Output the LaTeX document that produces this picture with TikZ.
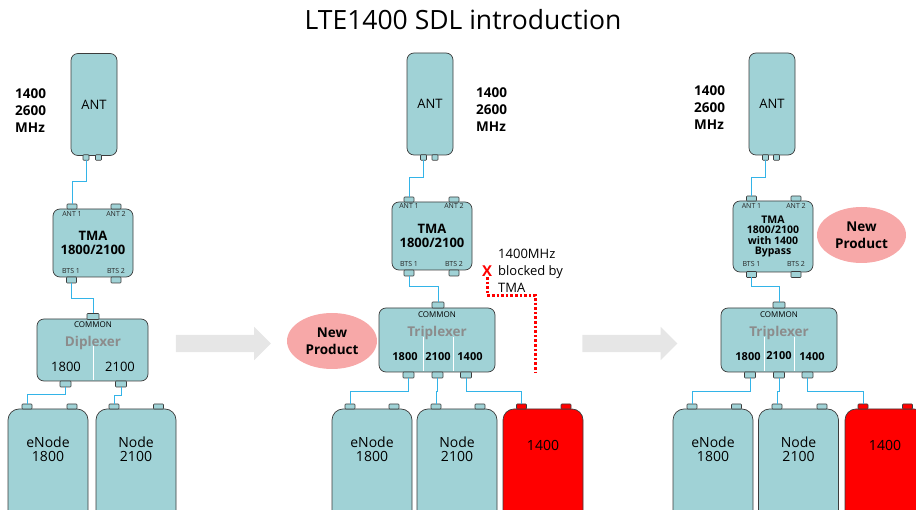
\documentclass[tikz,border=0pt]{standalone}
\usepackage{fontspec}
\setmainfont{Open Sans}
\usetikzlibrary{shapes.geometric,shapes.arrows}
\definecolor{unitfill}{HTML}{A0D2D6}
\definecolor{unitline}{HTML}{3C3C3C}
\definecolor{feeder}{HTML}{33B4E8}
\definecolor{newpink}{HTML}{F7A8A8}
\definecolor{plexgray}{HTML}{8C8C8C}
\definecolor{steparrow}{HTML}{E6E6E6}
\tikzset{
	unit/.style     = {shape=rectangle, rounded corners=7pt,
		draw=unitline, fill=unitfill, line width=0.7pt,
		inner sep=0pt, outer sep=0pt, align=center},
	antenna/.style  = {unit, minimum width=46pt, minimum height=102pt,
		font=\fontsize{13}{15}\selectfont},
	tma/.style      = {unit, minimum width=80pt, font=\bfseries\fontsize{13}{14}\selectfont},
	plexer/.style   = {unit, minimum width=116pt, minimum height=64pt},
	bts/.style      = {unit, anchor=north, rounded corners=11pt,
		minimum width=80pt, minimum height=140pt},
	btsred/.style   = {bts, fill=red},
	port/.style     = {draw=unitline, fill=unitfill, line width=0.6pt,
		minimum width=10pt, minimum height=5pt,
		inner sep=0pt, outer sep=0pt, rounded corners=0.8pt},
	antport/.style  = {port, minimum width=6pt, minimum height=5.5pt},
	plexport/.style = {port, minimum width=11pt, minimum height=6pt},
	redport/.style  = {port, fill=red},
	feed/.style     = {draw=feeder, line width=1pt},
	split/.style    = {draw=white, line width=0.9pt},
	blocked/.style  = {draw=red, line width=3pt, dash pattern=on 2.6pt off 2pt},
	portlbl/.style  = {font=\fontsize{7}{7}\selectfont, text=black!85, inner sep=0pt},
	comlbl/.style   = {font=\fontsize{8}{8}\selectfont, inner sep=0pt},
	plexname/.style = {font=\bfseries\fontsize{13.5}{14}\selectfont, text=plexgray, inner sep=0pt},
	band/.style     = {font=\fontsize{13}{13}\selectfont, inner sep=0pt},
	bandb/.style    = {font=\bfseries\fontsize{11}{11}\selectfont, inner sep=0pt},
	btslbl/.style   = {font=\fontsize{14}{13.5}\selectfont, align=center, inner sep=0pt},
	freq/.style     = {font=\bfseries\fontsize{13.5}{17}\selectfont, align=left,
		anchor=west, inner sep=0pt},
	newprod/.style  = {ellipse, fill=newpink, inner sep=0pt, align=center,
		font=\bfseries\fontsize{13.5}{17}\selectfont},
	stepper/.style  = {single arrow, fill=steparrow, draw=none, inner sep=0pt,
		inner ysep=8.5pt, minimum height=95pt, minimum width=33pt,
		single arrow head extend=8pt, single arrow tip angle=90}
}

\begin{document}
\begin{tikzpicture}[x=1pt, y=-1pt]
	\useasboundingbox (0,0) rectangle (916,510);
	\clip (0,0) rectangle (916,510);
	\node[font=\fontsize{26.5}{28}\selectfont, inner sep=0pt] (title) at (463,20) {LTE1400 SDL introduction};

	% --- today: TMA + diplexer ---
	\node[antenna] (antA) at (94,104.5) {ANT};
	\node[freq] (frqA) at (15,110.5) {1400\\2600\\MHz};
	\node[tma, minimum height=68pt] (tmaA) at (93,243) {TMA\\1800/2100};
	\node[unit, minimum width=111pt, minimum height=62pt] (dipA) at (92.5,350) {};
	\node[bts] (enA) at (48,409) {};
	\node[bts] (ndA) at (136,409) {};
	\node[antport] (antAp1) at (86,157.5) {};
	\node[antport] (antAp2) at (98.5,157.5) {};
	\node[port] (tmaAa1) at (72,206.5) {};
	\node[port] (tmaAa2) at (116,206.5) {};
	\node[port, minimum height=6pt] (tmaAb1) at (71.5,280) {};
	\node[port, minimum height=6pt] (tmaAb2) at (116,280) {};
	\node[plexport, minimum width=12pt] (dipAc) at (93,316.5) {};
	\node[plexport] (dipAo1) at (65.5,384) {};
	\node[plexport] (dipAo2) at (121,384) {};
	\node[port] (enAp1) at (27,406.5) {};
	\node[port] (enAp2) at (72,406.5) {};
	\node[port] (ndAp1) at (114,406.5) {};
	\node[port] (ndAp2) at (158.5,406.5) {};
	\node[portlbl] (tmaAl1) at (72,214) {ANT 1};
	\node[portlbl] (tmaAl2) at (116,214) {ANT 2};
	\node[portlbl] (tmaAl3) at (71,271) {BTS 1};
	\node[portlbl] (tmaAl4) at (116,271) {BTS 2};
	\node[comlbl] (dipAl) at (93,325) {COMMON};
	\node[plexname] (dipAn) at (93,343) {Diplexer};
	\draw[split] (93,346) -- (93,380);
	\node[band] (dipAf1) at (66,367) {1800};
	\node[band] (dipAf2) at (120,367) {2100};
	\node[btslbl] (enAl) at (48,449.5) {eNode\\1800};
	\node[btslbl] (ndAl) at (136,449.5) {Node\\2100};
	\draw[feed] (antAp1.south) -- ++(0,21.5) -| (tmaAa1.north);
	\draw[feed] (tmaAb1.south) -- ++(0,16) -| (dipAc.north);
	\draw[feed] (dipAo1.south) -- ++(0,8) -| (enAp1.north);
	\draw[feed] (dipAo2.south) -- ++(0,9) -| (ndAp1.north);

	\node[stepper] (goA) at (219,343.5) {};

	% --- triplexer behind the old TMA ---
	\node[antenna] (antB) at (430,104) {ANT};
	\node[freq] (frqB) at (476,109.5) {1400\\2600\\MHz};
	\node[tma, minimum height=68pt] (tmaB) at (432,236) {TMA\\1800/2100};
	\node[plexer] (triB) at (437,340) {};
	\node[bts] (enB) at (372,409) {};
	\node[bts] (ndB) at (457,409) {};
	\node[btsred] (rdB) at (543,409) {};
	\node[antport] (antBp1) at (423.5,157.5) {};
	\node[antport] (antBp2) at (435,157.5) {};
	\node[port] (tmaBa1) at (409,199.5) {};
	\node[port] (tmaBa2) at (454,199.5) {};
	\node[port, minimum height=6pt] (tmaBb1) at (409,273) {};
	\node[port, minimum height=6pt] (tmaBb2) at (454,273) {};
	\node[plexport, minimum width=12pt] (triBc) at (438,305) {};
	\node[plexport] (triBo1) at (408.5,375) {};
	\node[plexport] (triBo2) at (437.5,375) {};
	\node[plexport] (triBo3) at (466,375) {};
	\node[port] (enBp1) at (350,406.5) {};
	\node[port] (enBp2) at (394,406.5) {};
	\node[port] (ndBp1) at (436,406.5) {};
	\node[port] (ndBp2) at (480,406.5) {};
	\node[redport] (rdBp1) at (521.5,406.5) {};
	\node[redport] (rdBp2) at (566,406.5) {};
	\node[portlbl] (tmaBl1) at (409,206) {ANT 1};
	\node[portlbl] (tmaBl2) at (454,206) {ANT 2};
	\node[portlbl] (tmaBl3) at (409,264) {BTS 1};
	\node[portlbl] (tmaBl4) at (454,264) {BTS 2};
	\node[comlbl] (triBl) at (437,315) {COMMON};
	\node[plexname] (triBn) at (437,333) {Triplexer};
	\draw[split] (423,337) -- (423,371);
	\draw[split] (453,337) -- (453,371);
	\node[bandb] (triBf1) at (405,357) {1800};
	\node[bandb] (triBf2) at (438,357) {2100};
	\node[bandb] (triBf3) at (470,357) {1400};
	\node[btslbl] (enBl) at (372,449.5) {eNode\\1800};
	\node[btslbl] (ndBl) at (457,449.5) {Node\\2100};
	\node[btslbl] (rdBl) at (543,445) {1400};
	\draw[feed] (antBp1.south) -- ++(0,17) -| (tmaBa1.north);
	\draw[feed] (tmaBb1.south) -- ++(0,11) -| (triBc.north);
	\draw[feed] (triBo1.south) -- ++(0,14) -| (enBp1.north);
	\draw[feed] (triBo2.south) -- ++(0,14) -| (ndBp1.north);
	\draw[feed] (triBo3.south) -- ++(0,14) -| (rdBp1.north);
	\node[newprod, minimum width=90pt, minimum height=56pt] (newB) at (332,341) {New\\Product};
	% 1400 path stopped at the TMA
	\node[font=\fontsize{13}{17}\selectfont, align=left, anchor=west, inner sep=0pt] (blkB) at (498,271) {1400MHz\\blocked by\\TMA};
	\node[text=red, font=\bfseries\fontsize{15}{15}\selectfont, inner sep=0pt] (xB) at (487,271.5) {X};
	\coordinate (blkEnd) at (535,373);
	\draw[blocked] (xB.south) -- ++(0,18) -| (blkEnd);

	\node[stepper] (goB) at (625.5,343.5) {};

	% --- new TMA with 1400 bypass ---
	\node[antenna] (antC) at (772,104) {ANT};
	\node[freq] (frqC) at (694,107.5) {1400\\2600\\MHz};
	\node[tma, minimum height=71pt, font=\bfseries\fontsize{10.5}{10.3}\selectfont] (tmaC) at (773,236.5) {TMA\\1800/2100\\with 1400\\Bypass};
	\node[plexer] (triC) at (779,340) {};
	\node[bts] (enC) at (713,409) {};
	\node[bts] (ndC) at (798.5,409) {};
	\node[btsred] (rdC) at (885,409) {};
	\node[antport] (antCp1) at (765.5,157.5) {};
	\node[antport] (antCp2) at (776.5,157.5) {};
	\node[port] (tmaCa1) at (751.5,198.5) {};
	\node[port] (tmaCa2) at (796,198.5) {};
	\node[port, minimum height=6pt] (tmaCb1) at (751.5,274.5) {};
	\node[port, minimum height=6pt] (tmaCb2) at (796,274.5) {};
	\node[plexport, minimum width=12pt] (triCc) at (779,305) {};
	\node[plexport] (triCo1) at (750,375) {};
	\node[plexport] (triCo2) at (779,375) {};
	\node[plexport] (triCo3) at (807.5,375) {};
	\node[port] (enCp1) at (692,406.5) {};
	\node[port] (enCp2) at (736.5,406.5) {};
	\node[port] (ndCp1) at (777,406.5) {};
	\node[port] (ndCp2) at (822,406.5) {};
	\node[redport] (rdCp1) at (863,406.5) {};
	\node[redport] (rdCp2) at (907.5,406.5) {};
	\node[portlbl] (tmaCl1) at (751.5,206) {ANT 1};
	\node[portlbl] (tmaCl2) at (796,206) {ANT 2};
	\node[portlbl] (tmaCl3) at (751.5,264) {BTS 1};
	\node[portlbl] (tmaCl4) at (796,264) {BTS 2};
	\node[comlbl] (triCl) at (779,315) {COMMON};
	\node[plexname] (triCn) at (779,333) {Triplexer};
	\draw[split] (764,337) -- (764,371);
	\draw[split] (794,337) -- (794,371);
	\node[bandb] (triCf1) at (748,357) {1800};
	\node[bandb] (triCf2) at (779,356) {2100};
	\node[bandb] (triCf3) at (812,357) {1400};
	\node[btslbl] (enCl) at (713,449.5) {eNode\\1800};
	\node[btslbl] (ndCl) at (798.5,449.5) {Node\\2100};
	\node[btslbl] (rdCl) at (885,445) {1400};
	\draw[feed] (antCp1.south) -- ++(0,17) -| (tmaCa1.north);
	\draw[feed] (tmaCb1.south) -- ++(0,9.5) -| (triCc.north);
	\draw[feed] (triCo1.south) -- ++(0,14) -| (enCp1.north);
	\draw[feed] (triCo2.south) -- ++(0,14) -| (ndCp1.north);
	\draw[feed] (triCo3.south) -- ++(0,14) -| (rdCp1.north);
	\node[newprod, minimum width=89pt, minimum height=56pt] (newC) at (861.5,235) {New\\Product};
\end{tikzpicture}
\end{document}
